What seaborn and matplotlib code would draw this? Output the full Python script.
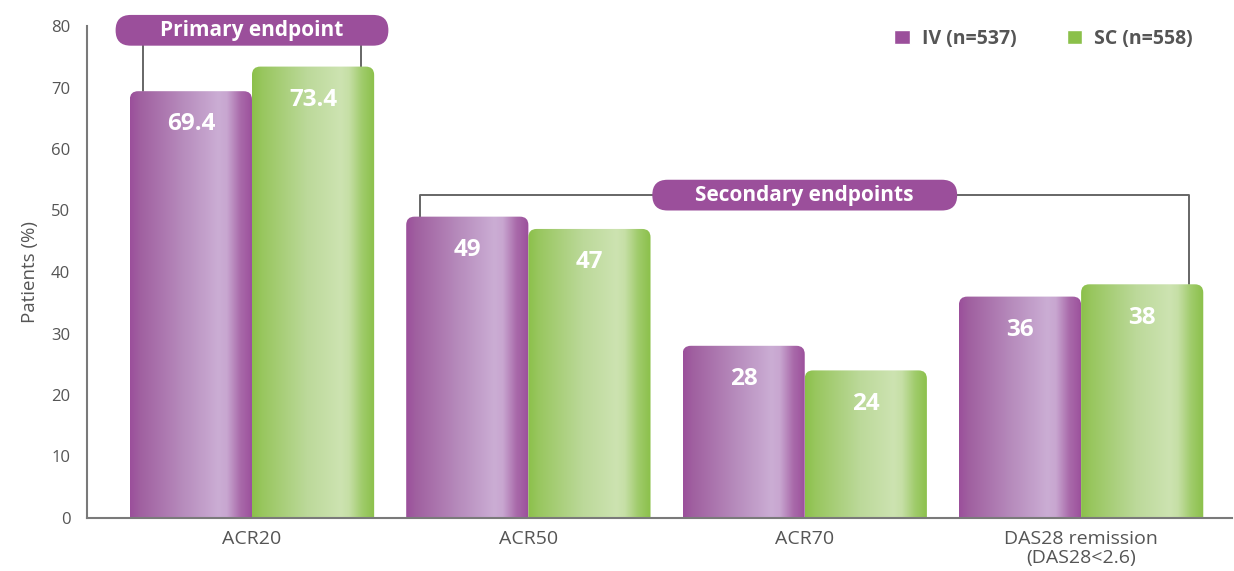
import numpy as np
import pandas as pd
import matplotlib.pyplot as plt
import seaborn as sns
from matplotlib.colors import LinearSegmentedColormap
from matplotlib.patches import FancyBboxPatch, Patch

# ---- data ----
endpoints = ["ACR20", "ACR50", "ACR70", "DAS28 remission\n(DAS28<2.6)"]
arms = ["IV (n=537)", "SC (n=558)"]
iv_values = [69.4, 49, 28, 36]
sc_values = [73.4, 47, 24, 38]
iv_labels = ["69.4", "49", "28", "36"]
sc_labels = ["73.4", "47", "24", "38"]

df = pd.DataFrame({
    "endpoint": endpoints * 2,
    "arm": [arms[0]] * 4 + [arms[1]] * 4,
    "pct": iv_values + sc_values,
})

PURPLE = "#9b4f9b"
GREEN = "#8bc04a"
GREY = "#555555"
ASPECT = 45  # y-units per x-unit for the same pixel length

sns.set_style("white")
plt.rcParams["font.family"] = ["Open Sans", "DejaVu Sans"]

fig = plt.figure(figsize=(12.34, 5.71), dpi=100)
ax = fig.add_axes([87 / 1234, 53 / 571, 1145 / 1234, 492 / 571])

sns.barplot(data=df, x="endpoint", y="pct", hue="arm", hue_order=arms,
            palette=[PURPLE, GREEN], width=0.884, ax=ax, legend=False)

# gradient fills for the bars
cmaps = [
    LinearSegmentedColormap.from_list("iv", [
        (0.0, PURPLE), (0.08, "#a060a0"), (0.45, "#b88ebe"), (0.72, "#cbadd4"),
        (0.79, "#c8a6d0"), (0.9, "#a96aaa"), (1.0, PURPLE)]),
    LinearSegmentedColormap.from_list("sc", [
        (0.0, GREEN), (0.08, "#98c65e"), (0.45, "#bcd99a"), (0.72, "#cde3b1"),
        (0.79, "#c6dfa6"), (0.9, "#9fcb6a"), (1.0, GREEN)]),
]
grad = np.linspace(0, 1, 256).reshape(1, -1)
labels = [iv_labels, sc_labels]
for k, cont in enumerate(ax.containers):
    for i, bar in enumerate(cont):
        x0, w, h = bar.get_x(), bar.get_width(), bar.get_height()
        bar.set_visible(False)
        clip = FancyBboxPatch((x0, -5), w, h + 5,
                              boxstyle="round,pad=0,rounding_size=0.03",
                              mutation_aspect=ASPECT, facecolor="none",
                              edgecolor="none")
        ax.add_patch(clip)
        im = ax.imshow(grad, extent=[x0, x0 + w, 0, h], aspect="auto",
                       cmap=cmaps[k], zorder=2)
        im.set_clip_path(clip)
        ax.text(x0 + w / 2, h - 5.4, labels[k][i], ha="center", va="center",
                color="white", fontsize=17.5, fontweight="bold", zorder=4)

ax.set_xlim(-0.597, 3.546)
ax.set_ylim(0, 80)
ax.set_yticks(range(0, 81, 10))


def pill(xc, yc, width, text):
    hgt = 5.0
    r = hgt / 2 / ASPECT * 0.99
    p = FancyBboxPatch((xc - width / 2, yc - hgt / 2), width, hgt,
                       boxstyle=f"round,pad=0,rounding_size={r}",
                       mutation_aspect=ASPECT, facecolor=PURPLE,
                       edgecolor="none", clip_on=False, zorder=5)
    ax.add_patch(p)
    ax.text(xc, yc, text, ha="center", va="center", color="white",
            fontsize=15, fontweight="bold", zorder=6, clip_on=False)


line_kw = dict(color="#666666", lw=1.4, zorder=1, clip_on=False)
# primary endpoint bracket
ax.plot([-0.394, -0.394], [iv_values[0], 79.3], **line_kw)
ax.plot([0.394, 0.394], [sc_values[0], 79.3], **line_kw)
pill(0.0, 79.3, 0.987, "Primary endpoint")

# secondary endpoints bracket
ax.plot([0.608, 0.608, 3.389, 3.389],
        [iv_values[1], 52.5, 52.5, sc_values[3]], **line_kw)
pill(2.0, 52.5, 1.103, "Secondary endpoints")

# axes styling
for s in ["top", "right"]:
    ax.spines[s].set_visible(False)
for s in ["left", "bottom"]:
    ax.spines[s].set_color("#7a7a7a")
    ax.spines[s].set_linewidth(1.5)
ax.tick_params(axis="y", length=8, width=1.3, color="#7a7a7a",
               labelsize=12, labelcolor=GREY, pad=4)
ax.tick_params(axis="x", length=0, labelsize=14, labelcolor=GREY, pad=9)
ax.set_xlabel("")
ax.set_ylabel("Patients (%)", fontsize=13.5, color=GREY, labelpad=9)
for t in ax.get_xticklabels():
    t.set_linespacing(1.0)

handles = [Patch(facecolor=PURPLE), Patch(facecolor=GREEN)]
ax.legend(handles, arms, loc="upper right", bbox_to_anchor=(0.981, 1.03),
          ncol=2, frameon=False, handlelength=0.8, handleheight=0.8,
          columnspacing=2.6, handletextpad=0.6,
          prop={"weight": "bold", "size": 14}, labelcolor=GREY)

fig.savefig("out.png", dpi=100)
